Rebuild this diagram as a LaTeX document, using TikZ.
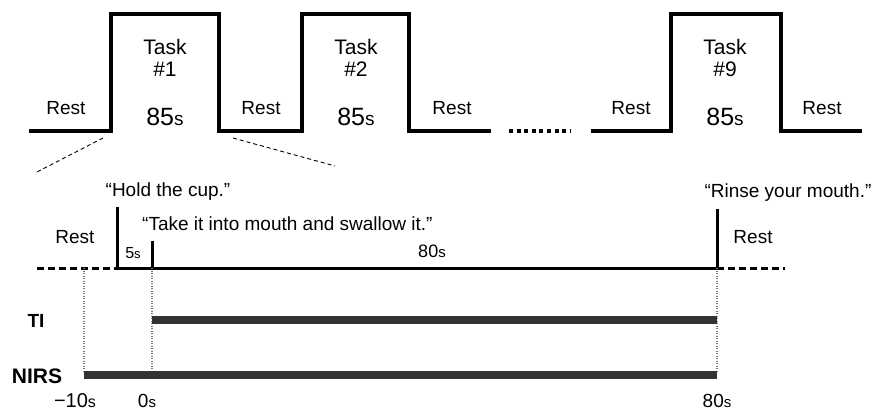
\documentclass[tikz,border=0pt]{standalone}
\usepackage{fontspec}
\setmainfont{Liberation Sans}
\usepackage{tikz}
\usetikzlibrary{positioning}
\definecolor{barcol}{RGB}{51, 51, 51}
\definecolor{guidecol}{RGB}{120, 120, 120}
\tikzstyle{wave} = [line width=3.3pt, line join=miter]
\tikzstyle{zoomline} = [line width=0.9pt, dash pattern=on 4pt off 3pt]
\tikzstyle{timeline} = [line width=3pt]
\tikzstyle{restline} = [line width=3pt, dash pattern=on 7pt off 4pt]
\tikzstyle{bar} = [line width=7.5pt, draw=barcol]
\tikzstyle{guide} = [line width=1.3pt, draw=guidecol, dash pattern=on 1.3pt off 1.2pt]
\tikzstyle{lbl} = [inner sep=0pt, anchor=base, font=\fontsize{19}{21}\selectfont]
\tikzstyle{tasklbl} = [lbl, font=\fontsize{21}{23}\selectfont]
\tikzstyle{sigLbl} = [inner sep=0pt, anchor=base, font=\bfseries]
\newcommand{\dur}[3]{{\fontsize{#2}{#2}\selectfont #1}{\fontsize{#3}{#3}\selectfont s}}

\begin{document}
\begin{tikzpicture}[x=1pt, y=-1pt]
    \useasboundingbox (0,0) rectangle (871,412);

    % Block design
    \draw[wave] (29,131) -- (111,131) -- (111,14) -- (219,14) -- (219,131) -- (302,131)
        -- (302,14) -- (409,14) -- (409,131) -- (491,131);
    \draw[line width=3.3pt, dash pattern=on 4pt off 3.6pt] (509,131) -- (571,131);
    \draw[wave] (591,131) -- (671,131) -- (671,14) -- (781,14) -- (781,131) -- (862,131);

    \node[lbl] (rest1) at (66,114) {Rest};
    \node[lbl] (rest2) at (261,114) {Rest};
    \node[lbl] (rest3) at (452,114) {Rest};
    \node[lbl] (rest4) at (631,114) {Rest};
    \node[lbl] (rest5) at (822,114) {Rest};

    \node[tasklbl] (task1) at (165,55) {Task};
    \node[tasklbl] (num1) at (165,77) {\#1};
    \node[lbl] (dur1) at (165,125) {\dur{85}{25}{19}};
    \node[tasklbl] (task2) at (356,55) {Task};
    \node[tasklbl] (num2) at (356,77) {\#2};
    \node[lbl] (dur2) at (356,125) {\dur{85}{25}{19}};
    \node[tasklbl] (task9) at (725,55) {Task};
    \node[tasklbl] (num9) at (725,77) {\#9};
    \node[lbl] (dur9) at (725,125) {\dur{85}{25}{19}};

    % Zoom lines
    \draw[zoomline] (103,138) -- (35,173);
    \draw[zoomline] (233,138) -- (335,166);

    % Single trial
    \draw[restline] (37,268) -- (117,268);
    \draw[timeline] (117,268) -- (717,268);
    \draw[restline] (717,268) -- (785,268);
    \draw[timeline] (117,269.5) -- (117,207);
    \draw[timeline] (152,269.5) -- (152,241);
    \draw[timeline] (717,269.5) -- (717,209);

    \node[lbl] (hold) at (168,196) {“Hold the cup.”};
    \node[lbl, anchor=base west] (take) at (142,230) {“Take it into mouth and swallow it.”};
    \node[lbl] (rinse) at (788,197) {“Rinse your mouth.”};
    \node[lbl] (restA) at (75,243) {Rest};
    \node[lbl] (restB) at (753,243) {Rest};
    \node[lbl] (five) at (133,258) {\dur{5}{16}{13}};
    \node[lbl] (eighty) at (432,257) {\dur{80}{18}{15}};

    % Recordings
    \draw[guide] (84,268) -- (84,373);
    \draw[guide] (152,268) -- (152,373);
    \draw[guide] (717,268) -- (717,373);
    \draw[bar] (152,320) -- (717,320);
    \draw[bar] (84,375) -- (717,375);

    \node[sigLbl, font=\bfseries\fontsize{19}{21}\selectfont] (ti) at (36,327) {TI};
    \node[sigLbl, font=\bfseries\fontsize{21}{23}\selectfont] (nirs) at (37,383) {NIRS};
    \node[lbl] (tm10) at (75,407) {\dur{−10}{20}{16}};
    \node[lbl] (t0) at (147,407) {\dur{0}{19}{15}};
    \node[lbl] (t80) at (717,407) {\dur{80}{19}{15}};
\end{tikzpicture}
\end{document}
